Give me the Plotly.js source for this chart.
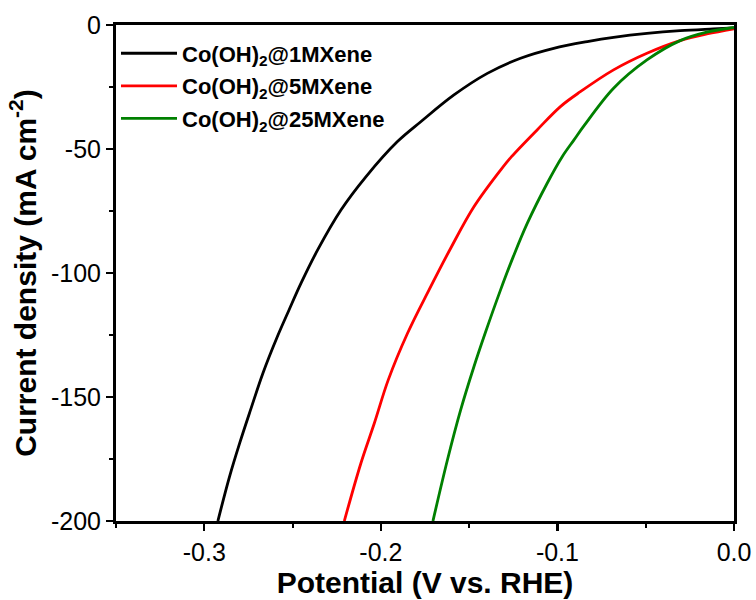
<!DOCTYPE html>
<html>
<head>
<meta charset="utf-8">
<script src="https://cdn.plot.ly/plotly-3.0.1.min.js"></script>
<style>body{margin:0;padding:0;background:#fff;} #chart{width:756px;height:600px;}</style>
</head>
<body>
<div id="chart"></div>
<script>
// Data
var names = ["Co(OH)<sub>2</sub>@1MXene", "Co(OH)<sub>2</sub>@5MXene", "Co(OH)<sub>2</sub>@25MXene"];
var colors = ["#000000", "#ff0000", "#008000"];

var x1 = [-0.2923, -0.2857, -0.2800, -0.2738, -0.2668, -0.2590, -0.2520, -0.2452, -0.2358, -0.2226, -0.2085, -0.1906, -0.1774, -0.1586, -0.1397, -0.1209, -0.1021, -0.0823, -0.0682, -0.0493, -0.0305, -0.0117, 0.0];
var y1 = [-200, -182.1, -168.7, -155.2, -140.4, -126.3, -114.9, -104.1, -90.7, -74.6, -61.2, -47.0, -39.0, -28.2, -19.5, -13.4, -9.4, -6.6, -5.0, -3.4, -2.3, -1.6, -1.2];

var x2 = [-0.2207, -0.2113, -0.2037, -0.1958, -0.1849, -0.1727, -0.1600, -0.1473, -0.1322, -0.1260, -0.1115, -0.0983, -0.0870, -0.0682, -0.0493, -0.0305, -0.0154, 0.0];
var y2 = [-200, -176.7, -160.6, -143.1, -124.3, -106.8, -89.4, -73.3, -58.5, -53.1, -42.3, -32.9, -26.9, -18.1, -11.4, -6.3, -3.6, -1.5];

var x3 = [-0.1705, -0.1623, -0.1548, -0.1473, -0.1408, -0.1322, -0.1250, -0.1171, -0.1058, -0.0973, -0.0907, -0.0848, -0.0682, -0.0493, -0.0305, -0.0154, 0.0];
var y3 = [-200, -175.4, -155.2, -137.8, -124.0, -106.8, -93.4, -80.0, -63.8, -53.1, -46.4, -40.5, -25.5, -14.1, -6.3, -2.9, -1.0];

var xTickVals = [-0.3, -0.2, -0.1, 0.0];
var xTickText = ["-0.3", "-0.2", "-0.1", "0.0"];
var yTickVals = [0, -50, -100, -150, -200];
var yTickText = ["0", "-50", "-100", "-150", "-200"];

var xs = [x1, x2, x3], ys = [y1, y2, y3];
var traces = xs.map(function (xv, i) {
  return {
    x: xv, y: ys[i], type: "scatter", mode: "lines", name: names[i],
    line: {color: colors[i], width: 2.8, shape: "spline", smoothing: 1.0},
    legendgroup: "g" + i
  };
});

var fam = "Arial, 'Liberation Sans', sans-serif";
var axisFont = {family: fam, size: 25, color: "#000"};
var titleFont = {family: fam, size: 30, color: "#000", weight: "bold"};

var layout = {
  width: 756, height: 600,
  paper_bgcolor: "#fff", plot_bgcolor: "#fff",
  margin: {l: 116, r: 22, t: 25, b: 79},
  showlegend: true,
  legend: {
    x: 0.0, y: 0.985, xanchor: "left", yanchor: "top",
    bgcolor: "rgba(0,0,0,0)", borderwidth: 0,
    traceorder: "grouped", tracegroupgap: 1, itemwidth: 56,
    font: {family: fam, size: 22, color: "#000", weight: "bold"}
  },
  xaxis: {
    range: [-0.35, 0.0], tickmode: "array", tickvals: xTickVals, ticktext: xTickText,
    showgrid: false, zeroline: false, showline: true, linecolor: "#000", linewidth: 3, mirror: true,
    ticks: "outside", ticklen: 7, tickwidth: 2.2, tickcolor: "#000",
    minor: {tickmode: "linear", tick0: 0, dtick: 0.05, ticks: "outside", ticklen: 4, tickwidth: 2, tickcolor: "#000", showgrid: false},
    tickfont: axisFont,
    title: {text: "Potential (V vs. RHE)", font: titleFont, standoff: 4}
  },
  yaxis: {
    range: [-200, 0], tickmode: "array", tickvals: yTickVals, ticktext: yTickText,
    showgrid: false, zeroline: false, showline: true, linecolor: "#000", linewidth: 3, mirror: true,
    ticks: "outside", ticklen: 7, tickwidth: 2.2, tickcolor: "#000",
    minor: {tickmode: "linear", tick0: 0, dtick: 25, ticks: "outside", ticklen: 4, tickwidth: 2, tickcolor: "#000", showgrid: false},
    tickfont: axisFont,
    title: {text: "Current density (mA cm<sup>-2</sup>)", font: titleFont, standoff: 6}
  }
};

Plotly.newPlot("chart", traces, layout, {displayModeBar: false, staticPlot: true});
</script>
</body>
</html>
